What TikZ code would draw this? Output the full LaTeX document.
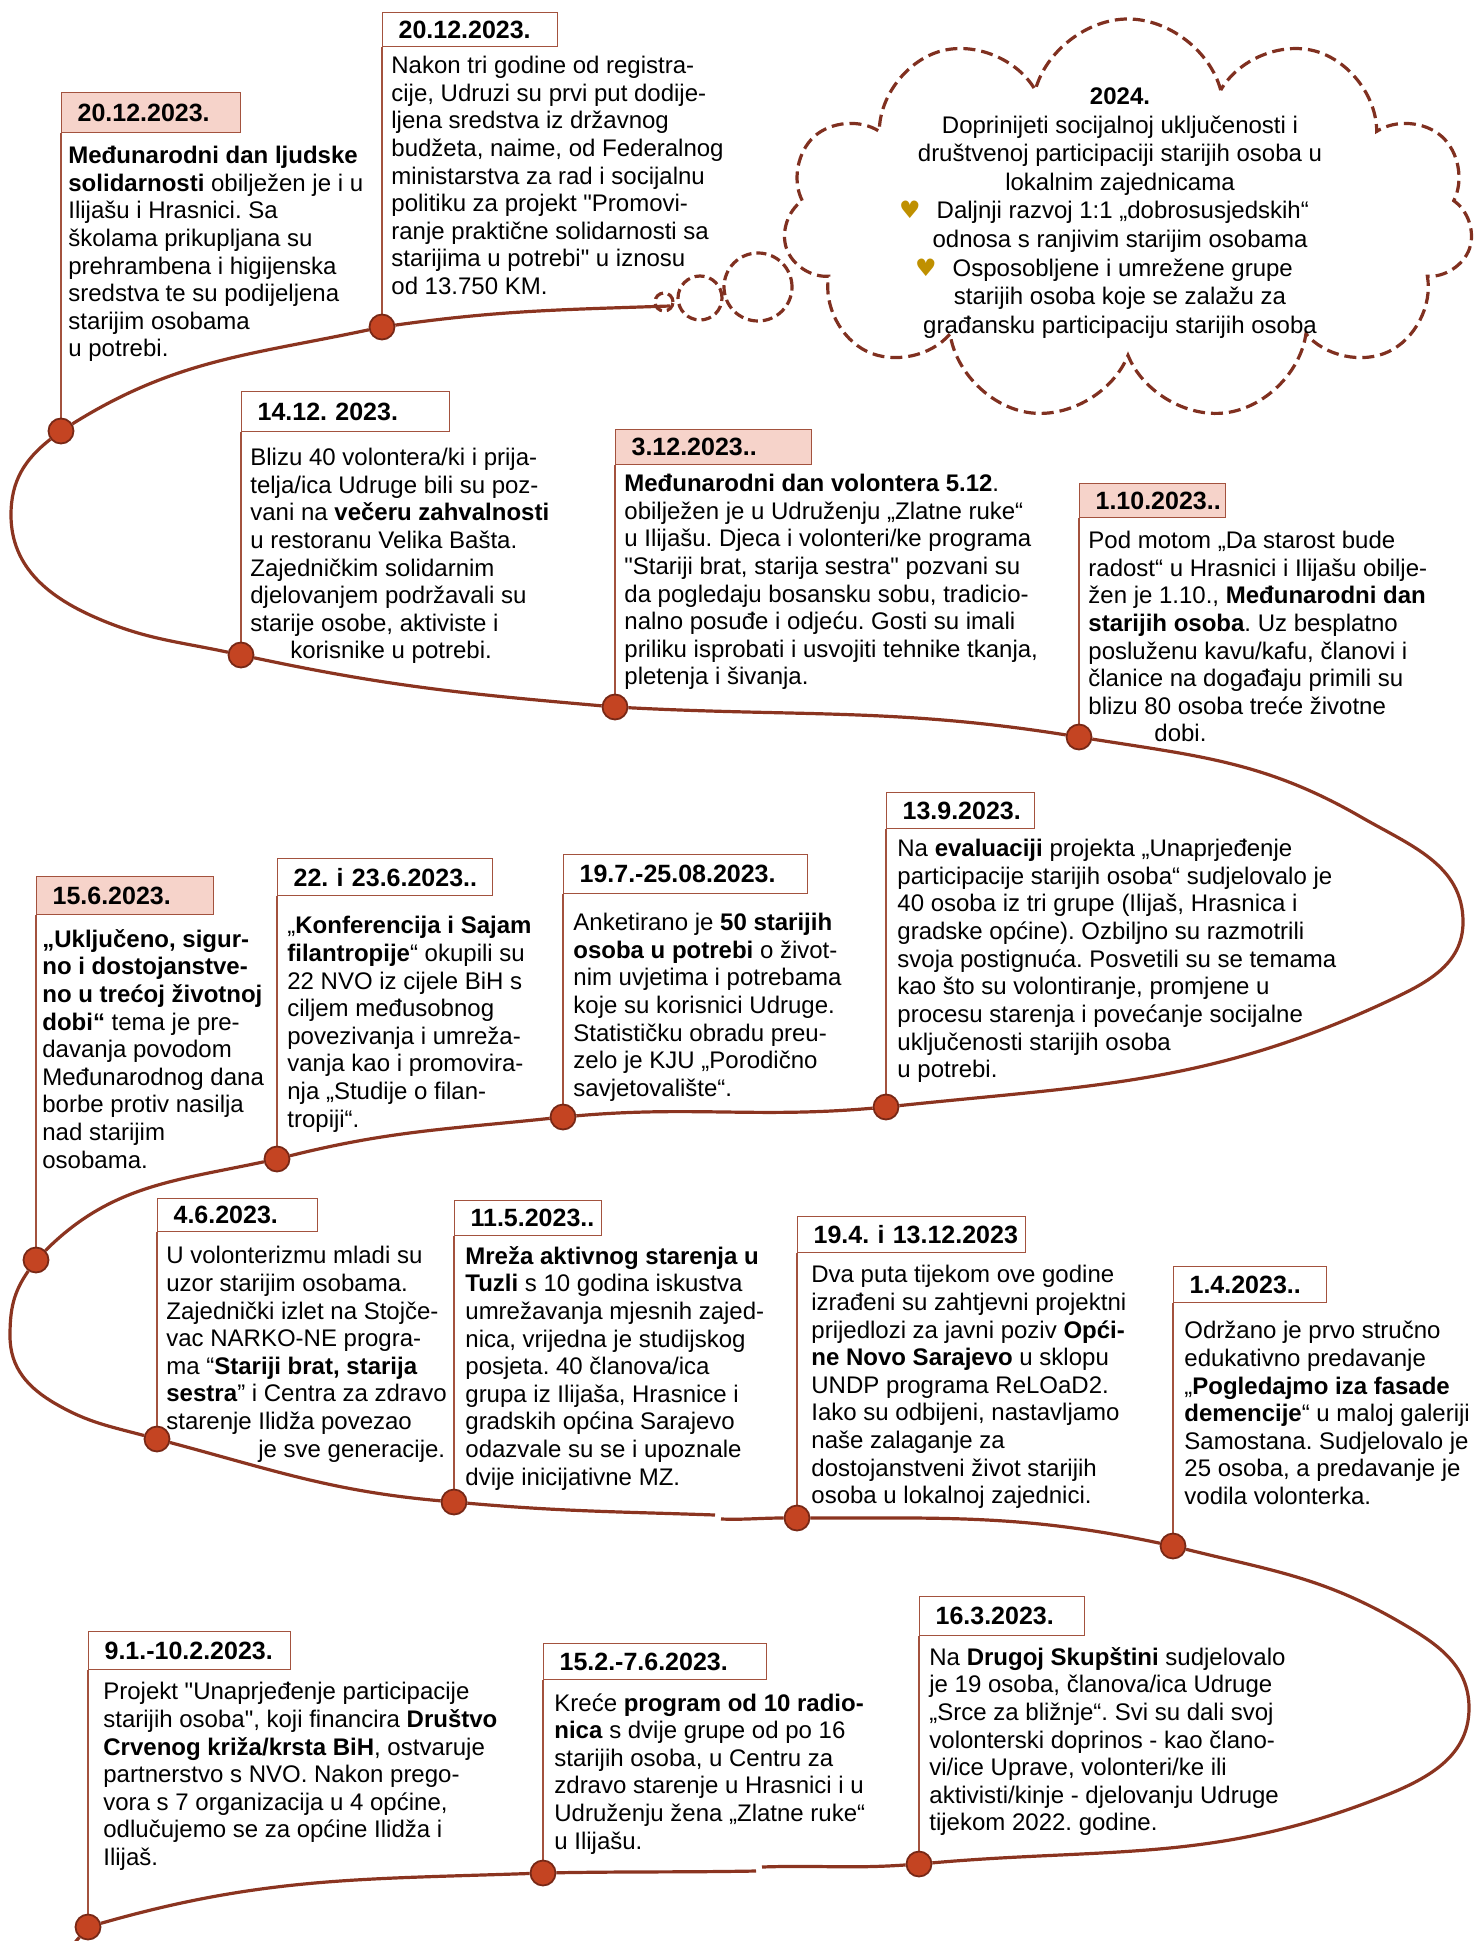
\documentclass[tikz,border=0pt]{standalone}
\usepackage{fontspec}
\setmainfont{Liberation Sans}[Ligatures=TeXOff]
\newfontfamily\heartfont{DejaVu Sans}
\usetikzlibrary{shapes.symbols, backgrounds}
\frenchspacing

\definecolor{linecol}{RGB}{139,52,32}
\definecolor{dotfill}{RGB}{196,68,34}
\definecolor{dotline}{RGB}{120,40,22}
\definecolor{boxcol}{RGB}{163,82,62}
\definecolor{pinkfill}{RGB}{246,211,202}
\definecolor{cloudcol}{RGB}{128,48,32}
\definecolor{heartcol}{RGB}{191,144,0}

\tikzset{
  datebox/.style={draw=boxcol, line width=0.6pt, anchor=north west, inner xsep=8pt,
                  inner ysep=0pt, align=left, font=\fontsize{12.5}{14}\selectfont\bfseries},
  note/.style={anchor=north west, inner sep=0pt, align=left,
               font=\fontsize{12}{13.8}\selectfont},
  stem/.style={draw=boxcol, line width=0.6pt},
  dot/.style={circle, fill=dotfill, draw=dotline, line width=0.9pt,
              minimum size=12.5pt, inner sep=0pt},
  timeline/.style={draw=linecol, line width=1.6pt},
  bubble/.style={circle, draw=cloudcol, line width=1.6pt,
                 dash pattern=on 5pt off 2.5pt, inner sep=0pt}
}

\begin{document}
\begin{tikzpicture}[x=0.5pt, y=0.5pt]
    \useasboundingbox (0,0) rectangle (1475,-1941);

    % Date boxes and event dots
    \foreach \i/\bx/\by/\bw/\bh/\dy/\bfill/\date in {
        1/61/92/179/40/431/pinkfill/20.12.2023.,
        2/382/12/175/34/327/white/20.12.2023.,
        3/241/391/208/40/655/white/14.12. 2023.,
        4/615/429/196/35/707/pinkfill/3.12.2023..,
        5/1079/483/146/34/737/pinkfill/1.10.2023..,
        6/886/792/148/36/1107/white/13.9.2023.,
        7/563/854/244/39/1117/white/19.7.-25.08.2023.,
        8/277/858/215/37/1159/white/22. i 23.6.2023..,
        9/36/876/177/38/1260/pinkfill/15.6.2023.,
        10/157/1198/160/33/1439/white/4.6.2023.,
        11/454/1200/147/35/1502/white/11.5.2023..,
        12/797/1216/228/36/1518/white/19.4. i 13.12.2023,
        13/1173/1266/153/36/1546/white/1.4.2023..,
        14/919/1596/165/39/1864/white/16.3.2023.,
        15/543/1643/223/36/1873/white/15.2.-7.6.2023.,
        16/88/1631/202/38/1927/white/9.1.-10.2.2023.} {
        \pgfmathsetmacro{\tw}{\bw*0.5-16}
        \pgfmathsetmacro{\th}{\bh*0.5}
        \node[datebox, fill=\bfill, text width=\tw pt, minimum height=\th pt]
            (b\i) at (\bx,-\by) {\mbox{\date}};
        \node[dot] (d\i) at (\bx,-\dy) {};
    }

    % Turning points of the timeline
    \coordinate (s0) at (670,-306);
    \coordinate (l1) at (11,-515);
    \coordinate (l1b) at (99,-619);
    \coordinate (r1a) at (1361,-817);
    \coordinate (r1) at (1463,-922);
    \coordinate (r1b) at (1386,-1002);
    \coordinate (l2) at (10,-1336);
    \coordinate (l2b) at (56,-1404);
    \coordinate (g1a) at (715,-1515);
    \coordinate (g1b) at (721,-1519);
    \coordinate (r2a) at (1398,-1621);
    \coordinate (r2) at (1469,-1708);
    \coordinate (r2b) at (1374,-1800);
    \coordinate (g2a) at (762,-1867);
    \coordinate (g2b) at (756,-1871);
    \coordinate (e) at (72,-1946);

    \begin{scope}[on background layer]
        % Timeline
        \draw[timeline] (s0) to[out=182,in=8] (d2) to[out=192,in=32] (d1)
            to[out=218,in=90] (l1) to[out=270,in=157] (l1b) to[out=337,in=168] (d3)
            to[out=348,in=175] (d4) to[out=357,in=171] (d5)
            to[out=351,in=150] (r1a) to[out=330,in=90] (r1)
            to[out=270,in=25] (r1b) to[out=205,in=6] (d6)
            to[out=185,in=5] (d7) to[out=186,in=14] (d8) to[out=192,in=45] (d9)
            to[out=235,in=90] (l2) to[out=270,in=150] (l2b) to[out=330,in=165] (d10)
            to[out=345,in=175] (d11) to[out=355,in=178] (g1a)
            (g1b) to[out=358,in=180] (d12) to[out=0,in=168] (d13)
            to[out=346,in=150] (r2a) to[out=330,in=90] (r2)
            to[out=270,in=21] (r2b) to[out=201,in=5] (d14)
            to[out=184,in=2] (g2a)
            (g2b) to[out=181,in=1] (d15) to[out=182,in=16] (d16) -- (e);
        % Stems
        \foreach \i in {1,...,16}
            \draw[stem] (b\i.south west) -- (d\i.center);
    \end{scope}

    % Event texts
    \node[note] (t1) at (68,-146) {\textbf{Međunarodni dan ljudske}\\
        \textbf{solidarnosti} obilježen je i u\\ Ilijašu i Hrasnici. Sa\\
        školama prikupljana su\\ prehrambena i higijenska\\
        sredstva te su podijeljena\\ starijim osobama\\ u potrebi.};
    \node[note] (t2) at (391,-56) {Nakon tri godine od registra-\\
        cije, Udruzi su prvi put dodije-\\ ljena sredstva iz državnog\\
        budžeta, naime, od Federalnog\\ ministarstva za rad i socijalnu\\
        politiku za projekt "Promovi-\\ ranje praktične solidarnosti sa\\
        starijima u potrebi" u iznosu\\ od 13.750 KM.};
    \node[note] (t3) at (250,-448) {Blizu 40 volontera/ki i prija-\\
        telja/ica Udruge bili su poz-\\ vani na \textbf{večeru zahvalnosti}\\
        u restoranu Velika Bašta.\\ Zajedničkim solidarnim\\
        djelovanjem podržavali su\\ starije osobe, aktiviste i\\
        \hspace*{20pt}korisnike u potrebi.};
    \node[note] (t4) at (624,-474) {\textbf{Međunarodni dan volontera 5.12}.\\
        obilježen je u Udruženju „Zlatne ruke“\\
        u Ilijašu. Djeca i volonteri/ke programa\\
        "Stariji brat, starija sestra" pozvani su\\
        da pogledaju bosansku sobu, tradicio-\\
        nalno posuđe i odjeću. Gosti su imali\\
        priliku isprobati i usvojiti tehnike tkanja,\\ pletenja i šivanja.};
    \node[note] (t5) at (1088,-531) {Pod motom „Da starost bude\\
        radost“ u Hrasnici i Ilijašu obilje-\\
        žen je 1.10., \textbf{Međunarodni dan}\\
        \textbf{starijih osoba}. Uz besplatno\\ posluženu kavu/kafu, članovi i\\
        članice na događaju primili su\\ blizu 80 osoba treće životne\\
        \hspace*{33pt}dobi.};
    \node[note] (t6) at (897,-839) {Na \textbf{evaluaciji} projekta „Unaprjeđenje\\
        participacije starijih osoba“ sudjelovalo je\\
        40 osoba iz tri grupe (Ilijaš, Hrasnica i\\
        gradske općine). Ozbiljno su razmotrili\\
        svoja postignuća. Posvetili su se temama\\
        kao što su volontiranje, promjene u\\
        procesu starenja i povećanje socijalne\\
        uključenosti starijih osoba\\ u potrebi.};
    \node[note] (t7) at (573,-913) {Anketirano je \textbf{50 starijih}\\
        \textbf{osoba u potrebi} o život-\\ nim uvjetima i potrebama\\
        koje su korisnici Udruge.\\ Statističku obradu preu-\\
        zelo je KJU „Porodično\\ savjetovalište“.};
    \node[note] (t8) at (287,-916) {„\textbf{Konferencija i Sajam}\\
        \textbf{filantropije}“ okupili su\\ 22 NVO iz cijele BiH s\\
        ciljem međusobnog\\ povezivanja i umreža-\\
        vanja kao i promovira-\\ nja „Studije o filan-\\ tropiji“.};
    \node[note] (t9) at (42,-929) {\textbf{„Uključeno, sigur-}\\
        \textbf{no i dostojanstve-}\\ \textbf{no u trećoj životnoj}\\
        \textbf{dobi“} tema je pre-\\ davanja povodom\\
        Međunarodnog dana\\ borbe protiv nasilja\\ nad starijim\\ osobama.};
    \node[note] (t10) at (166,-1246) {U volonterizmu mladi su\\
        uzor starijim osobama.\\ Zajednički izlet na Stojče-\\
        vac NARKO-NE progra-\\ ma “\textbf{Stariji brat, starija}\\
        \textbf{sestra}” i Centra za zdravo\\ starenje Ilidža povezao\\
        \hspace*{46pt}je sve generacije.};
    \node[note] (t11) at (465,-1246) {\textbf{Mreža aktivnog starenja u}\\
        \textbf{Tuzli} s 10 godina iskustva\\ umrežavanja mjesnih zajed-\\
        nica, vrijedna je studijskog\\ posjeta. 40 članova/ica\\
        grupa iz Ilijaša, Hrasnice i\\ gradskih općina Sarajevo\\
        odazvale su se i upoznale\\ dvije inicijativne MZ.};
    \node[note] (t12) at (811,-1265) {Dva puta tijekom ove godine\\
        izrađeni su zahtjevni projektni\\
        prijedlozi za javni poziv \textbf{Opći-}\\
        \textbf{ne Novo Sarajevo} u sklopu\\ UNDP programa ReLOaD2.\\
        Iako su odbijeni, nastavljamo\\ naše zalaganje za\\
        dostojanstveni život starijih\\ osoba u lokalnoj zajednici.};
    \node[note] (t13) at (1184,-1321) {Održano je prvo stručno\\
        edukativno predavanje\\ „\textbf{Pogledajmo iza fasade}\\
        \textbf{demencije}“ u maloj galeriji\\ Samostana. Sudjelovalo je\\
        25 osoba, a predavanje je\\ vodila volonterka.};
    \node[note] (t14) at (929,-1647) {Na \textbf{Drugoj Skupštini} sudjelovalo\\
        je 19 osoba, članova/ica Udruge\\ „Srce za bližnje“. Svi su dali svoj\\
        volonterski doprinos - kao člano-\\ vi/ice Uprave, volonteri/ke ili\\
        aktivisti/kinje - djelovanju Udruge\\ tijekom 2022. godine.};
    \node[note] (t15) at (554,-1693) {Kreće \textbf{program od 10 radio-}\\
        \textbf{nica} s dvije grupe od po 16\\ starijih osoba, u Centru za\\
        zdravo starenje u Hrasnici i u\\ Udruženju žena „Zlatne ruke“\\
        u Ilijašu.};
    \node[note] (t16) at (103,-1682) {Projekt "Unaprjeđenje participacije\\
        starijih osoba", koji financira \textbf{Društvo}\\
        \textbf{Crvenog križa/krsta BiH}, ostvaruje\\
        partnerstvo s NVO. Nakon prego-\\
        vora s 7 organizacija u 4 općine,\\
        odlučujemo se za općine Ilidža i\\ Ilijaš.};

    % Goal cloud with thought bubbles
    \node[bubble, minimum size=9pt] (c1) at (664,-302) {};
    \node[bubble, minimum size=22pt] (c2) at (700,-298) {};
    \node[bubble, minimum size=34pt] (c3) at (758,-287) {};
    \node[cloud, cloud puffs=11, cloud ignores aspect, draw=cloudcol, line width=1.6pt,
          dash pattern=on 6pt off 3pt, minimum width=345pt, minimum height=201pt]
        (goal) at (1128,-220) {};
    \node[align=center, inner sep=0pt, font=\fontsize{12}{14.3}\selectfont]
        (goaltext) at (1120,-213) {\textbf{2024.}\\
        Doprinijeti socijalnoj uključenosti i\\
        društvenoj participaciji starijih osoba u\\ lokalnim zajednicama\\
        \hspace*{-16pt}{\heartfont\color{heartcol}♥}\hspace{8pt}Daljnji razvoj 1:1 „dobrosusjedskih“\\
        odnosa s ranjivim starijim osobama\\
        \hspace*{-16pt}{\heartfont\color{heartcol}♥}\hspace{8pt}Osposobljene i umrežene grupe\\
        starijih osoba koje se zalažu za\\
        građansku participaciju starijih osoba};
\end{tikzpicture}
\end{document}
